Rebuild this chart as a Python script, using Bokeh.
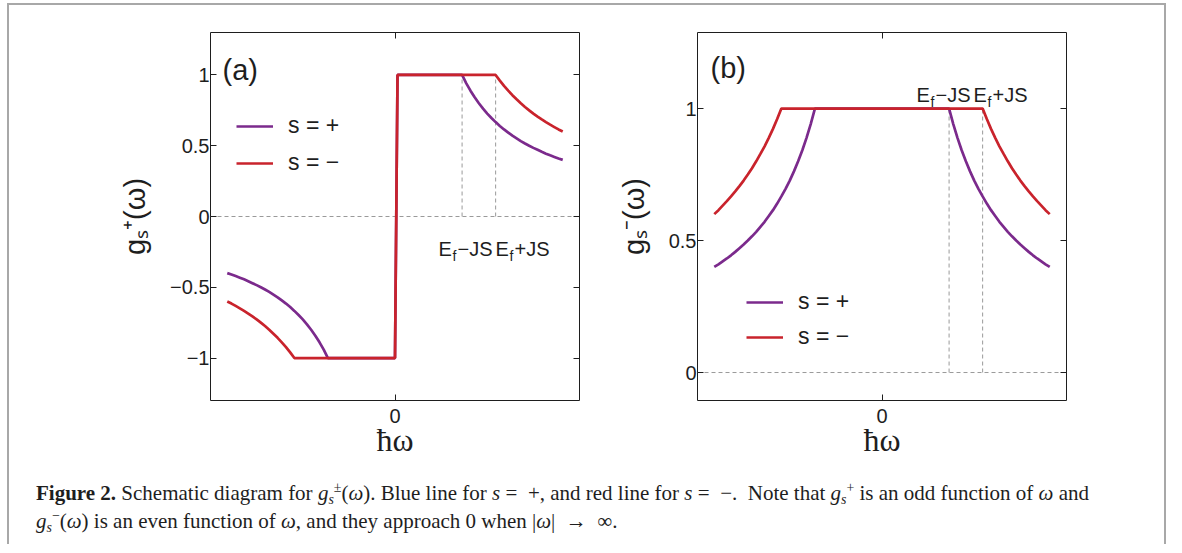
from bokeh.plotting import figure
from bokeh.models import Label, Span, LinearAxis, FixedTicker, Div
from bokeh.layouts import row, column
from bokeh.embed import file_html
from bokeh.resources import INLINE

# ---------------- data ----------------
# panel (a): g_s^+(omega), odd in omega
omega_a_plus = [-2.00, -1.95, -1.90, -1.85, -1.80, -1.75, -1.70, -1.65, -1.60, -1.55, -1.50, -1.45,
                -1.40, -1.35, -1.30, -1.25, -1.20, -1.15, -1.10, -1.05, -1.00, -0.95, -0.90, -0.85,
                -0.80, 0.00, 0.03,
                0.80, 0.85, 0.90, 0.95, 1.00, 1.05, 1.10, 1.15, 1.20, 1.25, 1.30, 1.35, 1.40,
                1.45, 1.50, 1.55, 1.60, 1.65, 1.70, 1.75, 1.80, 1.85, 1.90, 1.95, 2.00]
g_a_plus = [-0.400, -0.410, -0.421, -0.432, -0.444, -0.457, -0.471, -0.485, -0.500, -0.516, -0.533, -0.552,
            -0.571, -0.593, -0.615, -0.640, -0.667, -0.696, -0.727, -0.762, -0.800, -0.842, -0.889, -0.941,
            -1.000, -1.000, 1.000,
            1.000, 0.941, 0.889, 0.842, 0.800, 0.762, 0.727, 0.696, 0.667, 0.640, 0.615, 0.593, 0.571,
            0.552, 0.533, 0.516, 0.500, 0.485, 0.471, 0.457, 0.444, 0.432, 0.421, 0.410, 0.400]
omega_a_minus = [-2.00, -1.95, -1.90, -1.85, -1.80, -1.75, -1.70, -1.65, -1.60, -1.55, -1.50, -1.45,
                 -1.40, -1.35, -1.30, -1.25, -1.20, 0.00, 0.03,
                 1.20, 1.25, 1.30, 1.35, 1.40, 1.45, 1.50, 1.55, 1.60, 1.65, 1.70, 1.75, 1.80,
                 1.85, 1.90, 1.95, 2.00]
g_a_minus = [-0.600, -0.615, -0.632, -0.649, -0.667, -0.686, -0.706, -0.727, -0.750, -0.774, -0.800, -0.828,
             -0.857, -0.889, -0.923, -0.960, -1.000, -1.000, 1.000,
             1.000, 0.960, 0.923, 0.889, 0.857, 0.828, 0.800, 0.774, 0.750, 0.727, 0.706, 0.686, 0.667,
             0.649, 0.632, 0.615, 0.600]

# panel (b): g_s^-(omega), even in omega
omega_b_plus = [-2.00, -1.95, -1.90, -1.85, -1.80, -1.75, -1.70, -1.65, -1.60, -1.55, -1.50, -1.45,
                -1.40, -1.35, -1.30, -1.25, -1.20, -1.15, -1.10, -1.05, -1.00, -0.95, -0.90, -0.85,
                -0.80,
                0.80, 0.85, 0.90, 0.95, 1.00, 1.05, 1.10, 1.15, 1.20, 1.25, 1.30, 1.35, 1.40,
                1.45, 1.50, 1.55, 1.60, 1.65, 1.70, 1.75, 1.80, 1.85, 1.90, 1.95, 2.00]
g_b_plus = [0.400, 0.410, 0.421, 0.432, 0.444, 0.457, 0.471, 0.485, 0.500, 0.516, 0.533, 0.552,
            0.571, 0.593, 0.615, 0.640, 0.667, 0.696, 0.727, 0.762, 0.800, 0.842, 0.889, 0.941,
            1.000,
            1.000, 0.941, 0.889, 0.842, 0.800, 0.762, 0.727, 0.696, 0.667, 0.640, 0.615, 0.593, 0.571,
            0.552, 0.533, 0.516, 0.500, 0.485, 0.471, 0.457, 0.444, 0.432, 0.421, 0.410, 0.400]
omega_b_minus = [-2.00, -1.95, -1.90, -1.85, -1.80, -1.75, -1.70, -1.65, -1.60, -1.55, -1.50, -1.45,
                 -1.40, -1.35, -1.30, -1.25, -1.20,
                 1.20, 1.25, 1.30, 1.35, 1.40, 1.45, 1.50, 1.55, 1.60, 1.65, 1.70, 1.75, 1.80,
                 1.85, 1.90, 1.95, 2.00]
g_b_minus = [0.600, 0.615, 0.632, 0.649, 0.667, 0.686, 0.706, 0.727, 0.750, 0.774, 0.800, 0.828,
             0.857, 0.889, 0.923, 0.960, 1.000,
             1.000, 0.960, 0.923, 0.889, 0.857, 0.828, 0.800, 0.774, 0.750, 0.727, 0.706, 0.686, 0.667,
             0.649, 0.632, 0.615, 0.600]

ef_marks = [0.8, 1.2]          # E_f - JS, E_f + JS
ef_top = [1.0, 1.0]            # plateau value where the dashed markers end
ef_bottom = [0.0, 0.0]

series_labels = ["s = +", "s = \u2212"]
x_ticks = [0]
x_tick_labels = ["0"]
ya_ticks = [-1, -0.5, 0, 0.5, 1]
ya_tick_labels = ["\u22121", "\u22120.5", "0", "0.5", "1"]
yb_ticks = [0, 0.5, 1]
yb_tick_labels = ["0", "0.5", "1"]
panel_tags = ["(a)", "(b)"]
y_titles = ["g\u209b\u207a(\u03c9)", "g\u209b\u207b(\u03c9)"]
x_title = "\u0127\u03c9"
ef_pieces = [("E", 0, 0, 20), ("f", 14, 7, 14), ("\u2212JS", 19, 0, 20),
             ("E", 57, 0, 20), ("f", 71, 7, 14), ("+JS", 76, 0, 20)]

# ---------------- style ----------------
FONT = "Liberation Sans"
PURPLE = "#7b2a8c"
RED = "#c9232c"
DASH_C = "#9a9a9a"
INK = "#1e1e1e"
EDGE = "#a8a8a8"
LW = 2.7
FRAME_W, FRAME_H = 369, 368
YA = (-1.3, 1.3)
YB = (-0.106, 1.288)


def make_panel(yr, mbl, mbr, mbt, mbb, yticks, ylabels, ytitle):
    p = figure(frame_width=FRAME_W, frame_height=FRAME_H, x_range=(-2.2, 2.2), y_range=yr,
               title=None, output_backend="svg", toolbar_location=None,
               min_border_left=mbl, min_border_right=mbr,
               min_border_top=mbt, min_border_bottom=mbb)
    p.grid.visible = False
    p.outline_line_color = INK
    p.outline_line_width = 1
    p.add_layout(LinearAxis(), "above")
    p.add_layout(LinearAxis(), "right")
    for ax in list(p.below) + list(p.above) + list(p.left) + list(p.right):
        ax.axis_line_color = None
        ax.major_tick_in = 6
        ax.major_tick_out = 0
        ax.major_tick_line_color = INK
        ax.minor_tick_line_color = None
        ax.major_label_text_font = FONT
        ax.major_label_text_font_size = "20px"
        ax.major_label_text_color = INK
    for ax in list(p.below) + list(p.above):
        ax.ticker = FixedTicker(ticks=x_ticks)
    for ax in list(p.left) + list(p.right):
        ax.ticker = FixedTicker(ticks=yticks)
    p.below[0].major_label_overrides = dict(zip(x_ticks, x_tick_labels))
    p.above[0].major_label_overrides = {t: "" for t in x_ticks}
    p.left[0].major_label_overrides = dict(zip(yticks, ylabels))
    p.right[0].major_label_overrides = {t: "" for t in yticks}
    p.above[0].major_label_standoff = 0
    p.right[0].major_label_standoff = 0
    p.below[0].major_label_standoff = 8
    p.left[0].major_label_standoff = 1
    p.below[0].axis_label = x_title
    p.below[0].axis_label_text_font = "Liberation Serif"
    p.below[0].axis_label_text_font_size = "32px"
    p.below[0].axis_label_text_font_style = "normal"
    p.below[0].axis_label_text_color = INK
    p.below[0].axis_label_standoff = -4
    p.left[0].axis_label = ytitle
    p.left[0].axis_label_text_font = FONT
    p.left[0].axis_label_text_font_size = "29px"
    p.left[0].axis_label_text_font_style = "normal"
    p.left[0].axis_label_text_color = INK
    p.left[0].axis_label_standoff = 16
    zero = Span(location=0, dimension="width", line_color=DASH_C, line_dash="4 3", line_width=1)
    zero.level = "underlay"
    p.add_layout(zero)
    p.segment(x0=ef_marks, y0=ef_bottom, x1=ef_marks, y1=ef_top,
              line_color=DASH_C, line_dash="4 3", line_width=1)
    return p


def style_legend(p, loc, spacing):
    lg = p.legend[0]
    lg.location = loc
    lg.glyph_width = 37
    lg.glyph_height = 26
    lg.label_height = 26
    lg.label_standoff = 15
    lg.spacing = spacing
    lg.padding = 0
    lg.margin = 0
    lg.border_line_alpha = 0
    lg.background_fill_alpha = 0
    lg.label_text_font = FONT
    lg.label_text_font_size = "23px"
    lg.label_text_color = INK


def add_text(p, x, y, text, size, baseline="alphabetic"):
    p.add_layout(Label(x=x, y=y, text=text, text_font=FONT, text_font_size=f"{size}px",
                       text_color=INK, text_align="left", text_baseline=baseline))


# pixel -> data helpers for annotation placement (frame geometry, frames top at y=32)
def ax_(px): return -2.2 + (px - 210) * 4.4 / FRAME_W
def ay_(py): return YA[1] - (py - 32) * (YA[1] - YA[0]) / FRAME_H
def bx_(px): return -2.2 + (px - 697) * 4.4 / FRAME_W
def by_(py): return YB[1] - (py - 32) * (YB[1] - YB[0]) / FRAME_H


# ---------------- panel (a) ----------------
pa = make_panel(YA, 201, 31, 27, 74, ya_ticks, ya_tick_labels, y_titles[0])
pa.line(omega_a_plus, g_a_plus, line_color=PURPLE, line_width=LW, legend_label=series_labels[0])
pa.line(omega_a_minus, g_a_minus, line_color=RED, line_width=LW, legend_label=series_labels[1])
style_legend(pa, (26, 224), 10)
add_text(pa, ax_(222), ay_(69), panel_tags[0], 29, "middle")
for t, dx, dy, s in ef_pieces:
    add_text(pa, ax_(438 + dx), ay_(248 + dy), t, s)

# ---------------- panel (b) ----------------
pb = make_panel(YB, 87, 98, 27, 74, yb_ticks, yb_tick_labels, y_titles[1])
pb.line(omega_b_plus, g_b_plus, line_color=PURPLE, line_width=LW, legend_label=series_labels[0])
pb.line(omega_b_minus, g_b_minus, line_color=RED, line_width=LW, legend_label=series_labels[1])
style_legend(pb, (49, 50), 8)
add_text(pb, bx_(710), by_(67), panel_tags[1], 29, "middle")
for t, dx, dy, s in ef_pieces:
    add_text(pb, bx_(916 + dx), by_(94 + dy), t, s)

# ---------------- caption ----------------
SUB = '<span style="font-size:0.66em;vertical-align:-0.3em;line-height:0"><i>{}</i></span>'
SUP = '<span style="font-size:0.66em;vertical-align:0.55em;line-height:0">{}</span>'

def subsup(sub, sup):
    return SUB.format(sub) + SUP.format(sup)

caption_line1 = ('<b>Figure 2.</b> Schematic diagram for <i>g</i>' + subsup('s', '\u00b1') +
                 '(<i>\u03c9</i>). Blue line for <i>s</i> =&nbsp; +, and red line for <i>s</i> = &nbsp;\u2212. '
                 '&nbsp;Note that <i>g</i>' + subsup('s', '+') + ' is an odd function of <i>\u03c9</i> and')
caption_line2 = ('<i>g</i>' + subsup('s', '\u2212') + '(<i>\u03c9</i>) is an even function of <i>\u03c9</i>, '
                 'and they approach 0 when |<i>\u03c9</i>| &nbsp;\u2192 &nbsp;\u221e.')
cap = Div(text=('<div style="font-family:\'Liberation Serif\',serif;font-size:21px;line-height:28px;'
                'color:#1e1e1e;white-space:nowrap;padding:0 0 0 22px">'
                + caption_line1 + '<br>' + caption_line2 + '</div>'),
          width=1155, height=60)

layout = column(row(pa, pb), cap,
                styles={"margin-left": "7px", "margin-top": "3px", "width": "1159px",
                        "box-sizing": "border-box",
                        "border-left": f"2px solid {EDGE}", "border-top": f"2px solid {EDGE}",
                        "border-right": f"2px solid {EDGE}"})

open("out.html", "w").write(file_html(layout, INLINE))
